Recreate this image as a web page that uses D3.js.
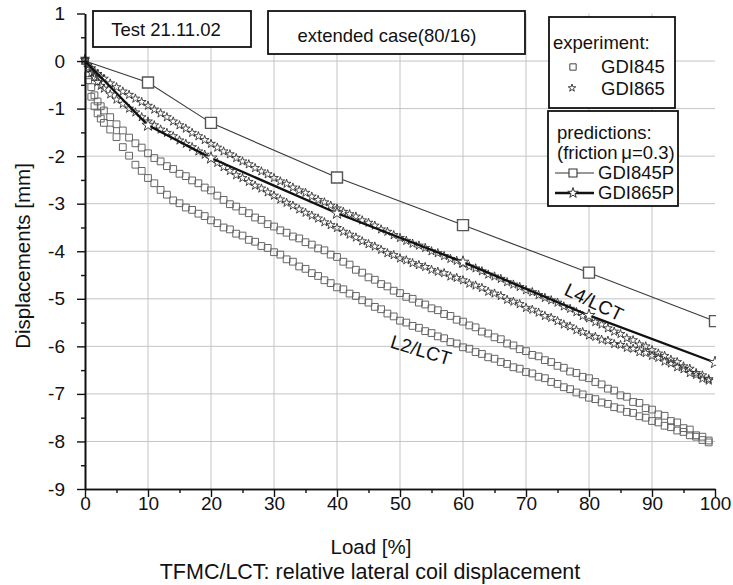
<!DOCTYPE html>
<html><head><meta charset="utf-8">
<script src="https://cdn.jsdelivr.net/npm/d3@7"></script>
<style>
body{margin:0;background:#fff}
svg{display:block}
text{font-family:"Liberation Sans",Arial,Helvetica,sans-serif;fill:#111}
</style>
</head><body><svg id="c" width="733" height="585"></svg>
<script>
// ---- data ----
const loads=[0,0.5,1,1.5,2,2.5,3,4,5,6,7,8,9,10,11,12,13,14,15,16,17,18,19,20,21,22,23,24,25,26,27,28,29,30,31,32,33,34,35,36,37,38,39,40,41,42,43,44,45,46,47,48,49,50,51,52,53,54,55,56,57,58,59,60,61,62,63,64,65,66,67,68,69,70,71,72,73,74,75,76,77,78,79,80,81,82,83,84,85,86,87,88,89,90,91,92,93,94,95,96,97,98,99];
// experiment GDI865 (stars), upper curve
const gdi865a=[0.05,-0.08,-0.15,-0.22,-0.27,-0.33,-0.37,-0.47,-0.55,-0.64,-0.71,-0.79,-0.86,-0.94,-1.02,-1.1,-1.18,-1.27,-1.35,-1.42,-1.51,-1.58,-1.66,-1.74,-1.82,-1.9,-1.96,-2.04,-2.11,-2.17,-2.25,-2.32,-2.38,-2.46,-2.53,-2.58,-2.66,-2.72,-2.77,-2.85,-2.92,-2.97,-3.04,-3.1,-3.17,-3.22,-3.27,-3.35,-3.4,-3.46,-3.54,-3.59,-3.66,-3.72,-3.78,-3.84,-3.88,-3.93,-4.0,-4.04,-4.1,-4.16,-4.2,-4.26,-4.32,-4.36,-4.42,-4.49,-4.53,-4.58,-4.65,-4.7,-4.75,-4.82,-4.86,-4.92,-4.98,-5.03,-5.08,-5.16,-5.21,-5.28,-5.36,-5.41,-5.49,-5.54,-5.62,-5.69,-5.74,-5.83,-5.87,-5.96,-6.0,-6.08,-6.15,-6.2,-6.28,-6.33,-6.42,-6.47,-6.56,-6.61,-6.69];
// experiment GDI865 (stars), lower curve
const gdi865b=[0.02,-0.14,-0.25,-0.34,-0.44,-0.52,-0.58,-0.7,-0.81,-0.9,-1.0,-1.08,-1.18,-1.27,-1.35,-1.44,-1.51,-1.58,-1.67,-1.74,-1.81,-1.9,-1.97,-2.05,-2.14,-2.23,-2.31,-2.4,-2.46,-2.54,-2.62,-2.68,-2.76,-2.83,-2.91,-2.98,-3.04,-3.12,-3.19,-3.25,-3.31,-3.39,-3.45,-3.51,-3.59,-3.65,-3.71,-3.79,-3.85,-3.9,-3.97,-4.04,-4.08,-4.15,-4.19,-4.25,-4.29,-4.33,-4.39,-4.43,-4.46,-4.53,-4.56,-4.61,-4.68,-4.72,-4.77,-4.85,-4.89,-4.94,-5.02,-5.06,-5.11,-5.19,-5.23,-5.29,-5.36,-5.4,-5.47,-5.54,-5.58,-5.66,-5.7,-5.77,-5.8,-5.86,-5.88,-5.95,-5.97,-6.03,-6.05,-6.12,-6.14,-6.2,-6.24,-6.32,-6.36,-6.44,-6.48,-6.56,-6.6,-6.68,-6.72];
// experiment GDI845 (squares), upper curve
const gdi845a=[0.0,-0.3,-0.55,-0.72,-0.85,-0.95,-1.04,-1.18,-1.33,-1.46,-1.61,-1.73,-1.82,-1.94,-2.04,-2.11,-2.21,-2.27,-2.37,-2.42,-2.51,-2.57,-2.66,-2.72,-2.83,-2.92,-3.01,-3.06,-3.15,-3.2,-3.29,-3.34,-3.43,-3.48,-3.56,-3.61,-3.69,-3.73,-3.81,-3.86,-3.94,-3.98,-4.07,-4.12,-4.22,-4.28,-4.39,-4.45,-4.55,-4.6,-4.69,-4.74,-4.83,-4.88,-4.96,-5.0,-5.08,-5.12,-5.2,-5.24,-5.32,-5.36,-5.44,-5.48,-5.56,-5.6,-5.69,-5.73,-5.81,-5.85,-5.94,-5.98,-6.06,-6.1,-6.18,-6.21,-6.29,-6.33,-6.41,-6.45,-6.53,-6.56,-6.64,-6.67,-6.75,-6.8,-6.89,-6.93,-7.03,-7.06,-7.17,-7.19,-7.3,-7.33,-7.43,-7.46,-7.57,-7.6,-7.72,-7.75,-7.87,-7.9,-7.98];
// experiment GDI845 (squares), lower curve
const gdi845b=[0.0,-0.4,-0.75,-0.95,-1.1,-1.21,-1.3,-1.44,-1.6,-1.81,-1.99,-2.18,-2.31,-2.46,-2.57,-2.71,-2.81,-2.93,-2.99,-3.08,-3.13,-3.21,-3.26,-3.35,-3.41,-3.5,-3.54,-3.63,-3.67,-3.76,-3.8,-3.89,-3.93,-4.02,-4.07,-4.17,-4.22,-4.32,-4.37,-4.46,-4.52,-4.61,-4.67,-4.76,-4.8,-4.89,-4.94,-5.03,-5.08,-5.17,-5.22,-5.31,-5.37,-5.46,-5.5,-5.57,-5.61,-5.68,-5.72,-5.79,-5.83,-5.91,-5.94,-6.02,-6.05,-6.12,-6.16,-6.23,-6.26,-6.33,-6.37,-6.44,-6.47,-6.54,-6.57,-6.64,-6.67,-6.75,-6.79,-6.86,-6.9,-6.97,-7.01,-7.08,-7.11,-7.18,-7.21,-7.28,-7.31,-7.38,-7.4,-7.47,-7.5,-7.57,-7.6,-7.67,-7.7,-7.77,-7.8,-7.87,-7.9,-7.97,-8.02];
// predictions (friction mu = 0.3)
const predLoads=[0,10,20,40,60,80,100];
const gdi845P=[0,-0.45,-1.3,-2.45,-3.45,-4.45,-5.47];
const gdi865P=[0,-1.35,-2.04,-3.2,-4.23,-5.35,-6.34];
const xTicks=[0,10,20,30,40,50,60,70,80,90,100];
const xMinor=[5,15,25,35,45,55,65,75,85,95];
const yTicks=[1,0,-1,-2,-3,-4,-5,-6,-7,-8,-9];
const yMinor=[0.5,-0.5,-1.5,-2.5,-3.5,-4.5,-5.5,-6.5,-7.5,-8.5];

// ---- drawing ----
const svg=d3.select('#c');
svg.append('rect').attr('width',733).attr('height',585).attr('fill','#fff');
const x=d3.scaleLinear().domain([0,100]).range([85,715]);
const y=d3.scaleLinear().domain([-9,1]).range([489,13.5]);

const grid=svg.append('g').attr('stroke','#c4c4c4').attr('stroke-width',1);
grid.selectAll('line.h').data(yTicks.filter(v=>v<1&&v>-9)).join('line')
  .attr('x1',x(0)).attr('x2',x(100)).attr('y1',d=>y(d)).attr('y2',d=>y(d));
grid.selectAll('line.v').data(xTicks.filter(v=>v>0&&v<100)).join('line')
  .attr('y1',y(1)).attr('y2',y(-9)).attr('x1',d=>x(d)).attr('x2',d=>x(d));

svg.append('defs').append('clipPath').attr('id','clip').append('rect')
  .attr('x',76).attr('y',0).attr('width',716-76).attr('height',489);
const plot=svg.append('g').attr('clip-path','url(#clip)');

const sq=d3.symbol(d3.symbolSquare,46)();
const st=d3.symbol(d3.symbolStar,24)();
function pts(vals){return loads.map((l,i)=>[l,vals[i]]);}

[gdi845a,gdi845b].forEach(s=>{
  plot.append('g').selectAll('path').data(pts(s)).join('path')
    .attr('d',sq).attr('transform',d=>`translate(${x(d[0])},${y(d[1])})`)
    .attr('fill','none').attr('stroke','#666').attr('stroke-width',1);
});
[gdi865a,gdi865b].forEach(s=>{
  plot.append('g').selectAll('path').data(pts(s)).join('path')
    .attr('d',st).attr('transform',d=>`translate(${x(d[0])},${y(d[1])})`)
    .attr('fill','none').attr('stroke','#2a2a2a').attr('stroke-width',0.85);
});

const line=d3.line().x(d=>x(d[0])).y(d=>y(d[1]));
const p845=predLoads.map((l,i)=>[l,gdi845P[i]]);
const p865=predLoads.map((l,i)=>[l,gdi865P[i]]);
plot.append('path').attr('d',line(p845)).attr('fill','none').attr('stroke','#3a3a3a').attr('stroke-width',1.1);
plot.append('path').attr('d',line(p865)).attr('fill','none').attr('stroke','#111').attr('stroke-width',2.3);
const bigSq=d3.symbol(d3.symbolSquare,121)();
const bigSt=d3.symbol(d3.symbolStar,46)();
plot.append('g').selectAll('path').data(p845.slice(1)).join('path')
  .attr('d',bigSq).attr('transform',d=>`translate(${x(d[0])},${y(d[1])})`)
  .attr('fill','#fff').attr('stroke','#555').attr('stroke-width',1.4);
plot.append('g').selectAll('path').data(p865.slice(1)).join('path')
  .attr('d',bigSt).attr('transform',d=>`translate(${x(d[0])},${y(d[1])})`)
  .attr('fill','#fff').attr('stroke','#444').attr('stroke-width',1);

// curve labels
svg.append('text').text('L4/LCT').attr('font-size',19)
  .attr('text-anchor','middle').attr('dy','0.35em')
  .attr('transform',`translate(594,302) rotate(26)`);
svg.append('text').text('L2/LCT').attr('font-size',19)
  .attr('text-anchor','middle').attr('dy','0.35em')
  .attr('transform',`translate(421,350) rotate(17)`);

// axes
svg.append('g').attr('transform',`translate(${x(0)},0)`)
  .call(d3.axisLeft(y).tickValues(yTicks).tickSize(8).tickSizeOuter(0).tickPadding(12).tickFormat(d=>String(d)));
svg.append('g').attr('transform',`translate(${x(0)},0)`)
  .call(d3.axisLeft(y).tickValues(yMinor).tickSize(4).tickSizeOuter(0).tickFormat(''));
svg.append('g').attr('transform',`translate(0,${y(-9)})`)
  .call(d3.axisBottom(x).tickValues(xTicks).tickSize(8).tickSizeOuter(0).tickPadding(0).tickFormat(d=>String(d)));
svg.append('g').attr('transform',`translate(0,${y(-9)})`)
  .call(d3.axisBottom(x).tickValues(xMinor).tickSize(4).tickSizeOuter(0).tickFormat(''));
svg.selectAll('.domain').attr('stroke','#111').attr('stroke-width',1.6);
svg.selectAll('.tick line').attr('stroke','#111').attr('stroke-width',1.4);
svg.selectAll('.tick text').attr('font-size',19).attr('fill','#111')
  .attr('font-family','"Liberation Sans",Arial,Helvetica,sans-serif');

svg.append('text').text('Displacements [mm]').attr('font-size',20.5)
  .attr('text-anchor','middle').attr('dy','0.35em')
  .attr('transform','translate(23,256) rotate(-90)');
svg.append('text').text('Load [%]').attr('font-size',20.5)
  .attr('text-anchor','middle').attr('x',371).attr('y',547).attr('dy','0.35em');
svg.append('text').text('TFMC/LCT: relative lateral coil displacement').attr('font-size',21.5)
  .attr('text-anchor','middle').attr('x',370).attr('y',571).attr('dy','0.35em');

// boxes
function box(x0,y0,x1,y1){
  svg.append('rect').attr('x',x0).attr('y',y0).attr('width',x1-x0).attr('height',y1-y0)
    .attr('fill','#fff').attr('stroke','#111').attr('stroke-width',1.8);
}
box(93,11,251,47);
svg.append('text').text('Test 21.11.02').attr('font-size',18.5).attr('x',166).attr('y',30)
  .attr('text-anchor','middle').attr('dy','0.35em');
box(268,11,525,54);
svg.append('text').text('extended case(80/16)').attr('font-size',18.5).attr('x',387).attr('y',36)
  .attr('text-anchor','middle').attr('dy','0.35em');

box(549,17,675,108);
svg.append('text').text('experiment:').attr('font-size',18.5).attr('x',553).attr('y',43).attr('dy','0.35em');
svg.append('path').attr('d',d3.symbol(d3.symbolSquare,40)()).attr('transform','translate(573,67)')
  .attr('fill','none').attr('stroke','#444').attr('stroke-width',1);
svg.append('text').text('GDI845').attr('font-size',18.5).attr('x',601).attr('y',67).attr('dy','0.35em');
svg.append('path').attr('d',d3.symbol(d3.symbolStar,18)()).attr('transform','translate(572,88)')
  .attr('fill','none').attr('stroke','#444').attr('stroke-width',1);
svg.append('text').text('GDI865').attr('font-size',18.5).attr('x',601).attr('y',89).attr('dy','0.35em');

box(548,111,678,206);
svg.append('text').text('predictions:').attr('font-size',18.5).attr('x',557).attr('y',133).attr('dy','0.35em');
svg.append('text').text('(friction\u2009\u03bc=0.3)').attr('font-size',18.5).attr('x',557).attr('y',153).attr('dy','0.35em');
svg.append('line').attr('x1',555).attr('x2',594).attr('y1',173).attr('y2',173).attr('stroke','#333').attr('stroke-width',1.1);
svg.append('path').attr('d',d3.symbol(d3.symbolSquare,64)()).attr('transform','translate(573,173)')
  .attr('fill','#fff').attr('stroke','#333').attr('stroke-width',1.1);
svg.append('text').text('GDI845P').attr('font-size',18.5).attr('x',598).attr('y',173).attr('dy','0.35em');
svg.append('line').attr('x1',555).attr('x2',594).attr('y1',193).attr('y2',193).attr('stroke','#111').attr('stroke-width',2.3);
svg.append('path').attr('d',d3.symbol(d3.symbolStar,34)()).attr('transform','translate(573,193)')
  .attr('fill','#fff').attr('stroke','#333').attr('stroke-width',1);
svg.append('text').text('GDI865P').attr('font-size',18.5).attr('x',598).attr('y',193).attr('dy','0.35em');
</script>
</body></html>
